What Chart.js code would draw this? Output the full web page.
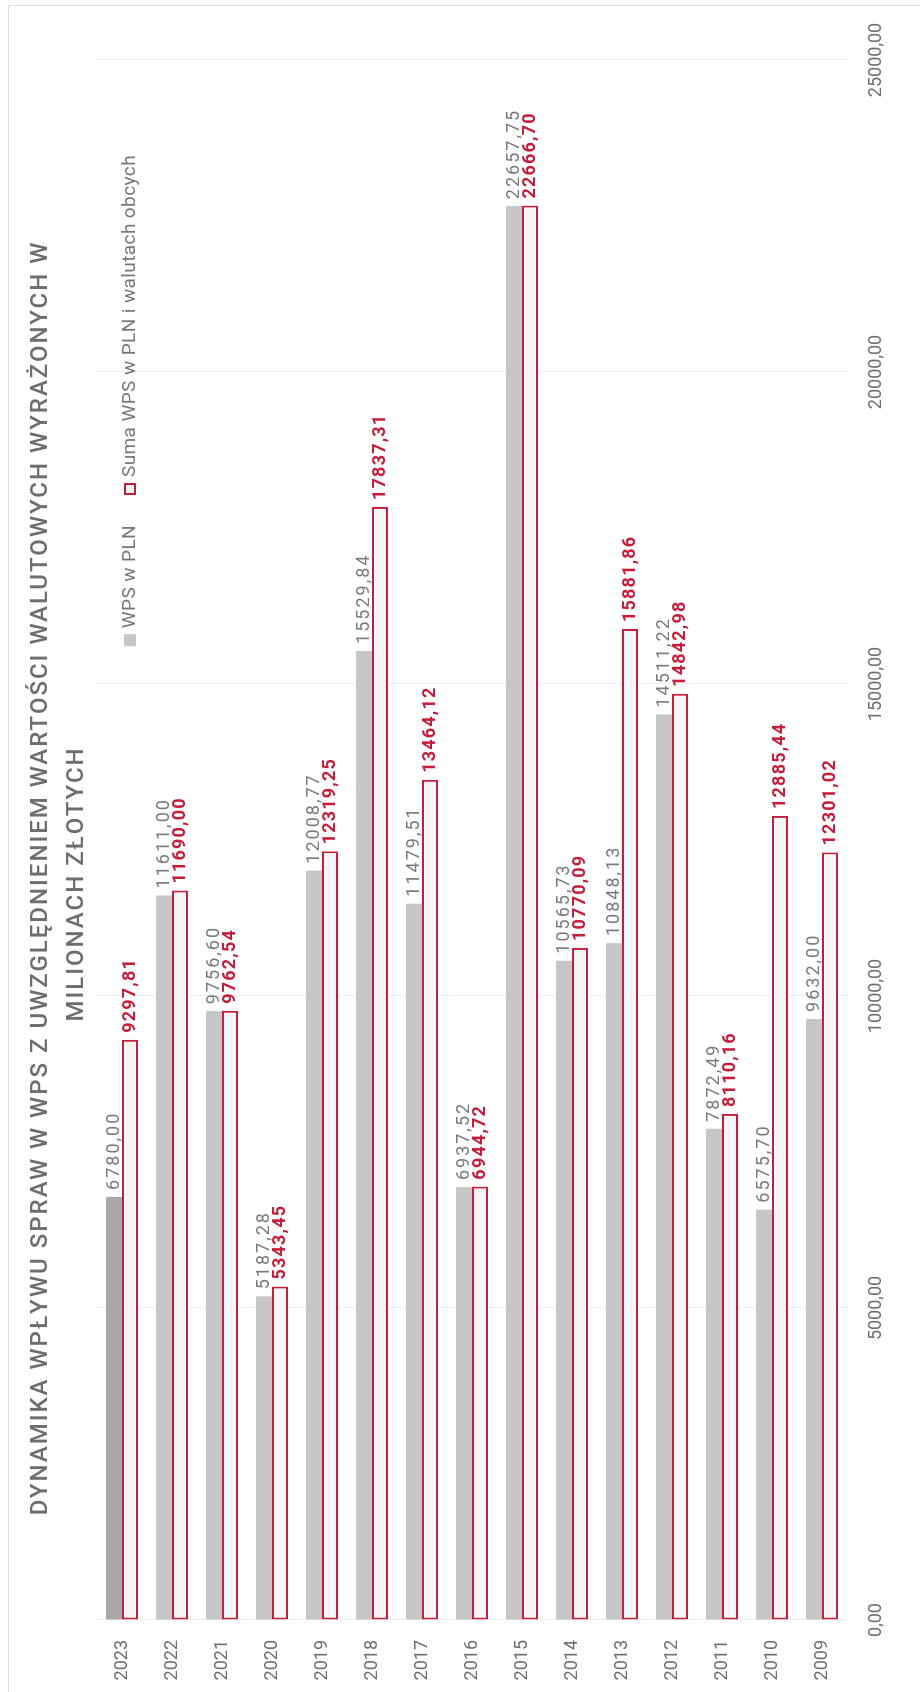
<!DOCTYPE html>
<html lang="pl">
<head>
<meta charset="utf-8">
<title>Dynamika wpływu spraw w WPS</title>
<script src="https://cdn.jsdelivr.net/npm/chart.js@4.4.1/dist/chart.umd.min.js"></script>
<style>
  html, body { margin: 0; padding: 0; background: #fff; overflow: hidden; }
  /* chart is drawn landscape and turned on its side, like the scanned page */
  #wrap {
    position: absolute; left: 0; top: 0;
    width: 1692px; height: 920px;
    transform-origin: 0 0;
    transform: translateY(1692px) rotate(-90deg);
  }
</style>
</head>
<body>
<div id="wrap"><canvas id="wpsChart" width="1692" height="920"></canvas></div>
<script>
// Data
var years = ['2023', '2022', '2021', '2020', '2019', '2018', '2017', '2016', '2015', '2014', '2013', '2012', '2011', '2010', '2009'];
var wpsPln = [6780.00, 11611.00, 9756.60, 5187.28, 12008.77, 15529.84, 11479.51, 6937.52, 22657.75, 10565.73, 10848.13, 14511.22, 7872.49, 6575.70, 9632.00];
var sumaWps = [9297.81, 11690.00, 9762.54, 5343.45, 12319.25, 17837.31, 13464.12, 6944.72, 22666.70, 10770.09, 15881.86, 14842.98, 8110.16, 12885.44, 12301.02];
var titleLines = ['DYNAMIKA WPŁYWU SPRAW W WPS Z UWZGLĘDNIENIEM WARTOŚCI WALUTOWYCH WYRAŻONYCH W', 'MILIONACH ZŁOTYCH'];

var RED = '#c41e3a';
var GREY = '#c6c6c6';
var GREY_DARK = '#a8a8a8';
var TEXT = '#6e6e6e';

function plNum(v) {
    return v.toFixed(2).replace('.', ',');
}

// title, legend, frame and value labels
var extras = {
    id: 'extras',
    afterDraw: function (chart) {
        var ctx = chart.ctx;
        ctx.save();

        // faint frame from the scan
        ctx.strokeStyle = '#dddddd';
        ctx.lineWidth = 1;
        ctx.beginPath();
        ctx.moveTo(0, 8.5);
        ctx.lineTo(1686.5, 8.5);
        ctx.lineTo(1686.5, 920);
        ctx.stroke();

        // title
        ctx.fillStyle = TEXT;
        ctx.textAlign = 'center';
        ctx.textBaseline = 'middle';
        ctx.font = '500 24px Roboto, sans-serif';
        ctx.letterSpacing = '2px';
        ctx.fillText(titleLines[0], 814, 41);
        ctx.fillText(titleLines[1], 808, 77);

        // legend, laid out from its right end
        ctx.letterSpacing = '0.4px';
        ctx.font = '19px Roboto, sans-serif';
        ctx.textAlign = 'left';
        var ly = 130;
        var t2 = chart.data.datasets[1].label;
        var t1 = chart.data.datasets[0].label;
        var x2 = 1537 - ctx.measureText(t2).width;
        var x1 = x2 - 18 - 30 - ctx.measureText(t1).width;
        ctx.fillStyle = GREY;
        ctx.fillRect(x1 - 18, ly - 6, 12, 12);
        ctx.fillStyle = '#777';
        ctx.fillText(t1, x1, ly);
        ctx.fillStyle = '#f6f6f6';
        ctx.fillRect(x2 - 18, ly - 6, 12, 12);
        ctx.strokeStyle = RED;
        ctx.lineWidth = 2;
        ctx.strokeRect(x2 - 17, ly - 5, 10, 10);
        ctx.fillStyle = '#777';
        ctx.fillText(t2, x2, ly);

        // value labels at the end of each bar
        chart.data.datasets.forEach(function (ds, di) {
            var meta = chart.getDatasetMeta(di);
            meta.data.forEach(function (bar, i) {
                if (di === 0) {
                    ctx.font = '18px Roboto, sans-serif';
                    ctx.fillStyle = '#7a7a7a';
                    ctx.letterSpacing = '2px';
                } else {
                    ctx.font = 'bold 18px Roboto, sans-serif';
                    ctx.fillStyle = RED;
                    ctx.letterSpacing = '1.2px';
                }
                ctx.fillText(plNum(ds.data[i]), bar.x + 7, bar.y);
            });
        });
        ctx.restore();
    }
};

var ctxWps = document.getElementById('wpsChart').getContext('2d');
var wpsChart = new Chart(ctxWps, {
    type: 'bar',
    data: {
        labels: years,
        datasets: [{
            label: 'WPS w PLN',
            data: wpsPln,
            backgroundColor: function (c) { return c.dataIndex === 0 ? GREY_DARK : GREY; },
            borderWidth: 0,
            categoryPercentage: 0.64,
            barPercentage: 1
        }, {
            label: 'Suma WPS w PLN i walutach obcych',
            data: sumaWps,
            backgroundColor: '#f6f6f6',
            borderColor: RED,
            borderWidth: 2,
            borderSkipped: false,
            categoryPercentage: 0.64,
            barPercentage: 1
        }]
    },
    options: {
        indexAxis: 'y',
        responsive: false,
        animation: false,
        layout: {
            padding: { top: 97, right: 60, left: 0, bottom: 0 }
        },
        plugins: {
            legend: { display: false },
            title: { display: false },
            tooltip: { enabled: false }
        },
        scales: {
            x: {
                min: 0,
                max: 25000,
                ticks: {
                    stepSize: 5000,
                    padding: 19,
                    color: TEXT,
                    font: { family: 'Roboto', size: 18 },
                    maxRotation: 0,
                    callback: function (v) { return plNum(v); }
                },
                grid: { color: '#ededed', drawTicks: false },
                border: { display: false },
                afterFit: function (scale) { scale.height = 73; }
            },
            y: {
                ticks: {
                    padding: 20,
                    color: TEXT,
                    font: { family: 'Roboto', size: 18 }
                },
                grid: { display: false, drawTicks: false },
                border: { display: false },
                afterFit: function (scale) { scale.width = 72; }
            }
        }
    },
    plugins: [extras]
});
</script>
</body>
</html>
